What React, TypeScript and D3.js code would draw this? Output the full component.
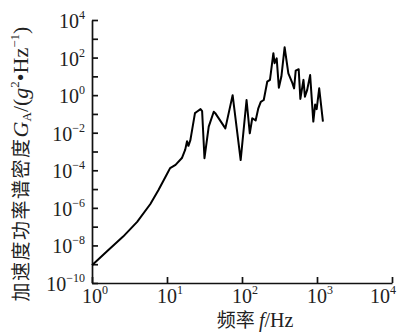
import { useEffect, useRef } from "react";
import * as d3 from "d3";

// frequency (Hz) and acceleration PSD (g^2/Hz)
const freq = [
  1, 1.6, 2.6, 4, 6, 7.7, 10, 11, 13, 15.8, 17.5, 18.5, 19.3, 20.5, 23.6, 25,
  28, 29.4, 31.6, 36, 42, 44, 60, 75, 96, 115, 127, 137, 152, 165, 178, 195,
  217, 236, 262, 272, 290, 310, 335, 370, 415, 470, 495, 520, 570, 600, 660,
  690, 740, 810, 893, 945, 990, 1070, 1200,
];
const psd = [
  8.9e-10, 5.1e-9, 2.95e-8, 1.8e-7, 1.6e-6, 8.9e-6, 6.3e-5, 1.3e-4, 1.95e-4,
  4.5e-4, 1.26e-3, 3.5e-3, 2.0e-3, 4.0e-3, 0.11, 0.13, 0.18, 0.14, 4.4e-4,
  2.1e-2, 0.13, 0.11, 1.7e-2, 1.0, 3.5e-4, 0.55, 9.3e-3, 5.9e-2, 4.5e-2, 0.2,
  0.44, 0.55, 5.2, 6.5, 170, 50, 91, 2.5, 9.8, 355, 14.5, 4.3, 2.3, 20, 24, 0.63,
  6.5, 0.83, 1.9, 11.7, 3.9e-2, 0.32, 0.18, 2.3, 3.9e-2,
];

const xTickExps = [0, 1, 2, 3, 4];
const yTickExps = [4, 2, 0, -2, -4, -6, -8, -10];
const yMinorExps = [3, 1, -1, -3, -5, -7, -9];

const serif = "Liberation Serif, Times New Roman, serif";
const cjk = "Noto Sans CJK SC, sans-serif";

const expText = (e: number) => (e < 0 ? "\u2212" + Math.abs(e) : String(e));

export default function App() {
  const ref = useRef<SVGSVGElement>(null);

  useEffect(() => {
    if (!ref.current) return;
    const svg = d3.select(ref.current);
    svg.selectAll("*").remove();

    const x = d3.scaleLog().domain([1, 1e4]).range([92, 392]);
    const y = d3.scaleLog().domain([1e-10, 1e4]).range([283, 20]);

    // axes, ticks pointing inward
    svg
      .append("g")
      .attr("transform", "translate(0,283)")
      .call(
        d3
          .axisBottom(x)
          .tickValues(xTickExps.map((e) => Math.pow(10, e)))
          .tickSizeInner(-6)
          .tickSizeOuter(0)
          .tickFormat(() => "")
      )
      .call((g) => g.selectAll("path,line").attr("stroke", "#111").attr("stroke-width", 1.7));

    svg
      .append("g")
      .attr("transform", "translate(92,0)")
      .call(
        d3
          .axisLeft(y)
          .tickValues([...yTickExps, ...yMinorExps].map((e) => Math.pow(10, e)))
          .tickSizeInner(-6)
          .tickSizeOuter(0)
          .tickFormat(() => "")
      )
      .call((g) => g.selectAll("path,line").attr("stroke", "#111").attr("stroke-width", 1.7));

    // x tick labels
    xTickExps.forEach((e, i) => {
      const last = i === xTickExps.length - 1;
      const t = svg
        .append("text")
        .attr("x", last ? 396 : x(Math.pow(10, e)) + 3)
        .attr("y", 303)
        .attr("text-anchor", last ? "end" : "middle")
        .attr("font-family", serif)
        .attr("font-size", 20)
        .attr("fill", "#222");
      t.append("tspan").text("10");
      t.append("tspan").attr("dy", -9).attr("font-size", 12).text(expText(e));
    });

    // y tick labels
    yTickExps.forEach((e) => {
      const t = svg
        .append("text")
        .attr("x", 85)
        .attr("y", y(Math.pow(10, e)) + 8)
        .attr("text-anchor", "end")
        .attr("font-family", serif)
        .attr("font-size", 20)
        .attr("fill", "#222");
      t.append("tspan").text("10");
      t.append("tspan").attr("dy", -9).attr("font-size", 12).text(expText(e));
    });

    // data line
    const line = d3
      .line<number>()
      .x((d, i) => x(freq[i]))
      .y((d) => y(d));
    svg
      .append("path")
      .datum(psd)
      .attr("fill", "none")
      .attr("stroke", "#000")
      .attr("stroke-width", 2)
      .attr("stroke-linejoin", "round")
      .attr("d", line);

    // x label
    const xl = svg
      .append("text")
      .attr("x", 255)
      .attr("y", 327)
      .attr("text-anchor", "middle")
      .attr("font-size", 19)
      .attr("fill", "#222");
    xl.append("tspan").attr("font-family", cjk).text("频率 ");
    xl.append("tspan").attr("font-family", serif).attr("font-style", "italic").attr("font-size", 20).text("f");
    xl.append("tspan").attr("font-family", serif).attr("font-size", 20).text("/Hz");

    // y label
    const yl = svg
      .append("text")
      .attr("transform", "translate(28,164) rotate(-90)")
      .attr("text-anchor", "middle")
      .attr("font-size", 22)
      .attr("fill", "#222");
    yl.append("tspan").attr("font-family", cjk).attr("font-size", 19).attr("letter-spacing", 1.5).text("加速度功率谱密度");
    yl.append("tspan").attr("font-family", serif).attr("font-style", "italic").text("G");
    yl.append("tspan").attr("font-family", serif).attr("font-size", 13).attr("dy", 3).text("A");
    yl.append("tspan").attr("font-family", serif).attr("dy", -3).text("/(");
    yl.append("tspan").attr("font-family", serif).attr("font-style", "italic").text("g");
    yl.append("tspan").attr("font-family", serif).attr("font-size", 13).attr("dy", -9).text("2");
    yl.append("tspan").attr("font-family", serif).attr("dy", 9).text("•Hz");
    yl.append("tspan").attr("font-family", serif).attr("font-size", 13).attr("dy", -9).text("\u22121");
    yl.append("tspan").attr("font-family", serif).attr("dy", 9).text(")");
  }, []);

  return (
    <svg
      ref={ref}
      width={397}
      height={332}
      style={{ position: "absolute", left: 0, top: 0, background: "#fff" }}
    />
  );
}
